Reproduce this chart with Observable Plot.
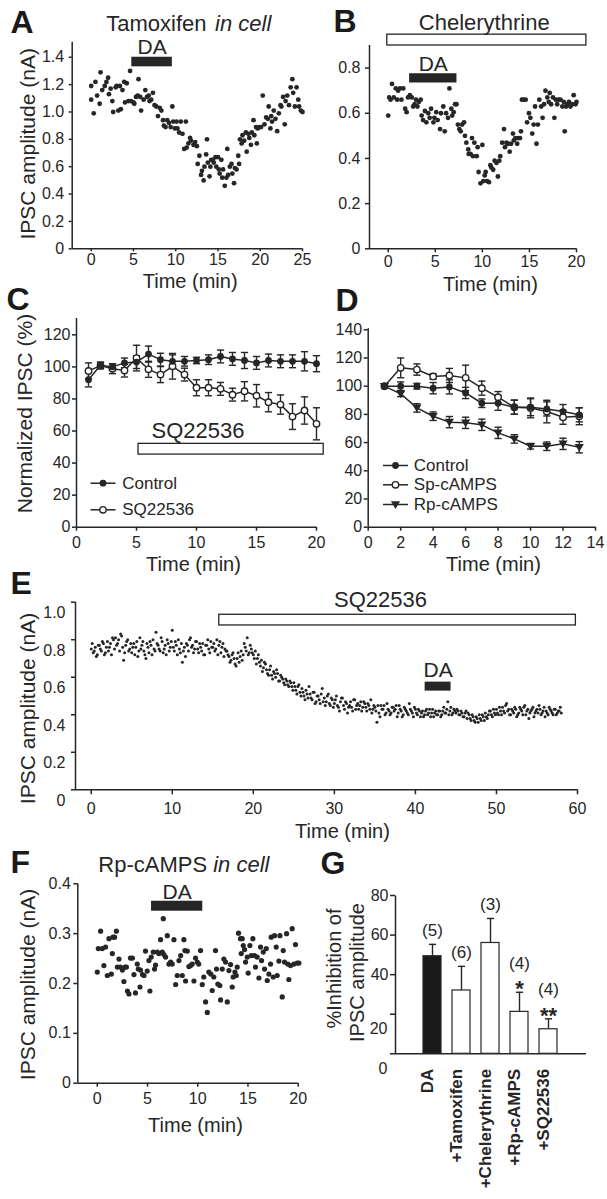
<!DOCTYPE html>
<html><head><meta charset="utf-8">
<script src="https://cdn.jsdelivr.net/npm/d3@7"></script>
<script src="https://cdn.jsdelivr.net/npm/@observablehq/plot@0.6"></script>
<style>
html,body{margin:0;padding:0;background:#fff;}
#fig{position:relative;width:607px;height:1199px;overflow:hidden;background:#fff;}
.panel{position:absolute;}
.panel svg{overflow:visible;}
</style></head><body><div id="fig"></div>
<script>
// ================= DATA =================
// Panel A : Tamoxifen in cell
const A_time = [0,0,0.3,0.5,0.7,1.0,1.1,1.3,1.6,1.8,
 2.0,2.1,2.3,2.5,2.6,2.9,3.0,3.2,3.4,3.5,
 3.7,3.9,4.0,4.2,4.4,4.6,4.7,5.0,5.1,5.3,
 5.5,5.6,5.8,5.9,6.2,6.4,6.6,6.8,6.9,7.1,
 7.3,7.5,7.7,7.9,8.1,8.3,8.5,8.6,8.8,9.0,
 9.2,9.4,9.6,9.7,9.9,10.1,10.2,10.4,10.6,10.8,
 11.0,11.2,11.3,11.5,11.7,11.8,12.1,12.3,12.5,12.6,
 12.8,13.0,13.1,13.3,13.4,13.6,13.7,13.8,14.0,14.1,
 14.2,14.4,14.5,14.7,14.8,15.0,15.1,15.2,15.4,15.5,
 15.6,15.8,16.0,16.1,16.2,16.4,16.6,16.7,16.9,17.0,
 17.2,17.4,17.5,17.6,17.8,17.9,18.1,18.3,18.4,18.6,
 18.7,18.9,19.0,19.2,19.3,19.5,19.6,19.7,19.9,20.1,
 20.3,20.5,20.7,20.9,21.0,21.2,21.3,21.4,21.6,21.8,
 22.0,22.2,22.4,22.5,22.7,22.9,23.0,23.2,23.4,23.6,
 23.8,23.9,24.1,24.3,24.5,24.6,24.8,25.0];
const A_amp = [1.19,1.09,0.99,1.22,1.12,1.06,1.29,1.16,1.19,1.22,
 1.25,1.13,1.17,1.08,1.00,1.18,1.19,1.01,1.19,1.02,
 1.16,1.22,1.07,1.21,1.08,1.30,1.08,1.07,1.06,1.11,
 1.12,1.24,1.11,1.01,1.09,1.16,1.11,1.12,1.08,1.09,
 1.14,1.05,1.04,0.97,1.03,1.01,0.94,0.90,0.89,0.94,
 0.92,0.89,1.04,0.93,0.88,0.93,0.88,0.85,0.93,0.84,
 0.73,0.93,0.74,0.77,0.81,0.79,0.76,0.78,0.75,0.62,
 0.68,0.54,0.57,0.50,0.60,0.69,0.80,0.63,0.53,0.60,
 0.65,0.65,0.63,0.67,0.60,0.67,0.58,0.55,0.65,0.52,
 0.58,0.46,0.52,0.73,0.54,0.60,0.62,0.55,0.48,0.59,
 0.58,0.68,0.62,0.80,0.77,0.83,0.79,0.85,0.71,0.84,
 0.81,0.76,0.85,0.94,0.83,0.89,0.77,0.88,0.89,0.89,
 1.12,0.91,0.96,0.95,1.04,0.88,0.97,0.93,1.01,0.95,
 0.86,0.99,1.05,1.04,1.11,0.91,1.08,1.12,1.05,1.18,
 1.24,1.14,1.04,1.18,1.09,1.04,1.01,1.00];
const A_DA = [4.8, 9.6];
const A_xTicks = [0,5,10,15,20,25];
const A_yTicks = [0,0.2,0.4,0.6,0.8,1.0,1.2,1.4];

// Panel B : Chelerythrine
const B_time = [0,0.1,0.25,0.4,0.6,0.8,0.95,1.05,1.25,1.4,
 1.6,1.8,1.95,2.1,2.3,2.5,2.65,2.8,2.95,3.1,
 3.25,3.45,3.55,3.7,3.9,4.05,4.25,4.4,4.55,4.8,
 4.9,5.1,5.25,5.5,5.6,5.85,6.0,6.15,6.35,6.5,
 6.7,6.8,6.95,7.1,7.25,7.4,7.55,7.7,7.85,8.05,
 8.15,8.3,8.5,8.55,8.75,8.9,9.0,9.15,9.4,9.5,
 9.6,9.8,10.0,10.1,10.25,10.35,10.5,10.7,10.85,10.95,
 11.15,11.3,11.5,11.65,11.8,11.9,12.1,12.3,12.4,12.55,
 12.7,12.9,13.05,13.25,13.35,13.5,13.7,13.8,14.0,14.1,
 14.2,14.4,14.6,14.75,14.95,15.1,15.3,15.45,15.6,15.75,
 15.9,16.05,16.25,16.4,16.55,16.7,16.9,17.05,17.15,17.3,
 17.5,17.65,17.8,17.95,18.1,18.3,18.5,18.65,18.75,18.9,
 19.0,19.2,19.35,19.55,19.7,19.9,20.0];
const B_amp = [0.59,0.67,0.66,0.73,0.67,0.71,0.66,0.70,0.71,0.66,
 0.71,0.62,0.605,0.67,0.68,0.67,0.63,0.64,0.66,0.63,
 0.65,0.66,0.59,0.57,0.61,0.56,0.60,0.58,0.62,0.56,
 0.58,0.605,0.57,0.53,0.60,0.63,0.52,0.60,0.58,0.71,
 0.62,0.59,0.605,0.64,0.64,0.55,0.53,0.52,0.55,0.56,
 0.50,0.47,0.44,0.42,0.42,0.49,0.41,0.47,0.41,0.45,
 0.34,0.29,0.46,0.30,0.325,0.34,0.30,0.295,0.37,0.36,
 0.35,0.39,0.38,0.32,0.39,0.41,0.47,0.53,0.45,0.47,
 0.465,0.43,0.465,0.51,0.48,0.49,0.465,0.49,0.49,0.52,
 0.66,0.66,0.66,0.56,0.60,0.58,0.51,0.55,0.63,0.465,
 0.55,0.66,0.63,0.58,0.64,0.70,0.67,0.65,0.69,0.64,
 0.67,0.58,0.66,0.64,0.66,0.66,0.63,0.65,0.52,0.63,
 0.64,0.65,0.63,0.64,0.68,0.64,0.65];
const B_DA = [2.27, 7.3];
const B_CHEL = [-0.1, 21.05];
const B_xTicks = [0,5,10,15,20];
const B_yTicks = [0,0.2,0.4,0.6,0.8];

// Panel C : Normalized IPSC, Control vs SQ22536
const C_time = [1,2,3,4,5,6,7,8,9,10,11,12,13,14,15,16,17,18,19,20];
const C_control = [92,101,100,102.5,103,108,104.5,103.5,103.5,104,104.5,106.5,105,104,102.5,104,103.5,103.5,103.5,102];
const C_controlErr = [4.5,2,2,3,4,5,4,4,3,2,3,4,4,5,4,4,4,4,6,5];
const C_sq = [97.5,100.8,98.8,97.7,105.5,98.5,95.2,100.4,95.2,87,87,86.3,82.7,84.8,82,78,76.5,69,72.8,64.5];
const C_sqErr = [5,2,3,4,8,5,5,8,4,5,5,4,4,6,7,6,6,8,8.5,10];
const C_SQ = [5.17, 20.6];
const C_xTicks = [0,5,10,15,20];
const C_yTicks = [0,20,40,60,80,100,120];
const C_series = ["Control","SQ22536"];

// Panel D : Control, Sp-cAMPS, Rp-cAMPS
const D_time = [1,2,3,4,5,6,7,8,9,10,11,12,13];
const D_control = [100,100,100,98.6,99.5,95.2,87.9,87.9,85.1,85.1,83.9,82,79.7];
const D_controlErr = [0,3,2,4,5,4,3,5,5,6,5,5,5];
const D_sp = [100,113,111.8,106.9,107.6,105.9,98.6,92.2,85.1,84.6,82,78,78.7];
const D_spErr = [0,7,4,2,5,9,5,4,5,7,8,5,6];
const D_rp = [100,94.6,84.6,78.7,74.5,74,72.6,66.9,62.6,57.4,57.4,59.1,56.7];
const D_rpErr = [0,2,3,3,4,4,4,4,3,2,3,4,4];
const D_xTicks = [0,2,4,6,8,10,12,14];
const D_yTicks = [0,20,40,60,80,100,120,140];
const D_series = ["Control","Sp-cAMPS","Rp-cAMPS"];

// Panel E : SQ22536 then DA (sweeps every 0.125 min; two interleaved read-offs)
const E_interval = 0.25;
const E_amp = [
 0.75,0.73,0.76,0.72, 0.77,0.74,0.78,0.73, 0.79,0.76,0.72,0.80, 0.81,0.78,0.74,0.82, 0.69,0.77,0.80,0.75,
 0.73,0.78,0.76,0.71, 0.81,0.77,0.74,0.70, 0.76,0.79,0.72,0.75, 0.84,0.77,0.74,0.79, 0.75,0.72,0.78,0.76,
 0.85,0.74,0.77,0.80, 0.73,0.68,0.76,0.78, 0.74,0.81,0.77,0.75, 0.79,0.73,0.76,0.78, 0.72,0.77,0.75,0.79,
 0.76,0.74,0.80,0.77, 0.73,0.78,0.75,0.74, 0.71,0.69,0.73,0.67, 0.70,0.68,0.74,0.72, 0.76,0.81,0.73,0.75,
 0.72,0.74,0.70,0.68, 0.69,0.65,0.67,0.62, 0.64,0.61,0.63,0.60, 0.62,0.58,0.60,0.57, 0.59,0.56,0.58,0.55,
 0.57,0.53,0.55,0.52, 0.54,0.50,0.53,0.49, 0.51,0.48,0.52,0.47, 0.50,0.46,0.54,0.49, 0.47,0.51,0.45,0.48,
 0.46,0.50,0.44,0.47, 0.49,0.43,0.46,0.44, 0.47,0.42,0.48,0.45, 0.43,0.47,0.44,0.46, 0.42,0.45,0.48,0.43,
 0.44,0.36,0.41,0.45, 0.43,0.40,0.46,0.42, 0.41,0.44,0.43,0.39, 0.45,0.42,0.40,0.43, 0.41,0.46,0.42,0.39,
 0.43,0.40,0.42,0.41, 0.39,0.42,0.40,0.43, 0.41,0.39,0.42,0.40, 0.42,0.40,0.44,0.41, 0.47,0.42,0.40,0.43,
 0.41,0.42,0.40,0.41, 0.39,0.42,0.41,0.38, 0.40,0.37,0.39,0.36, 0.38,0.40,0.37,0.39, 0.40,0.42,0.39,0.41,
 0.43,0.40,0.42,0.44, 0.41,0.46,0.43,0.40, 0.42,0.44,0.39,0.41, 0.43,0.40,0.45,0.42, 0.38,0.42,0.44,0.41,
 0.43,0.45,0.40,0.42, 0.39,0.41,0.44,0.42, 0.40,0.43,0.41,0.42, 0.41];
const E_amp2 = [
 0.78,0.74,0.71,0.77, 0.75,0.79,0.72,0.76, 0.74,0.78,0.81,0.75, 0.77,0.80,0.83,0.76, 0.73,0.79,0.74,0.78,
 0.76,0.72,0.79,0.74, 0.75,0.79,0.72,0.78, 0.73,0.77,0.80,0.74, 0.78,0.75,0.81,0.73, 0.77,0.80,0.74,0.79,
 0.76,0.79,0.72,0.75, 0.78,0.74,0.71,0.77, 0.80,0.76,0.73,0.79, 0.75,0.78,0.74,0.72, 0.77,0.80,0.73,0.76,
 0.78,0.75,0.72,0.79, 0.76,0.71,0.74,0.72, 0.68,0.72,0.70,0.66, 0.73,0.71,0.69,0.78, 0.74,0.72,0.77,0.73,
 0.70,0.67,0.72,0.66, 0.63,0.68,0.64,0.61, 0.66,0.59,0.62,0.64, 0.58,0.61,0.59,0.56, 0.58,0.55,0.57,0.53,
 0.55,0.51,0.56,0.50, 0.52,0.48,0.51,0.55, 0.49,0.52,0.46,0.50, 0.48,0.51,0.47,0.45, 0.50,0.46,0.49,0.44,
 0.48,0.45,0.42,0.49, 0.45,0.47,0.41,0.45, 0.44,0.48,0.43,0.46, 0.45,0.42,0.47,0.44, 0.46,0.43,0.41,0.45,
 0.42,0.45,0.39,0.43, 0.45,0.41,0.43,0.40, 0.44,0.42,0.45,0.41, 0.43,0.39,0.44,0.42, 0.40,0.43,0.41,0.44,
 0.41,0.43,0.39,0.42, 0.40,0.43,0.41,0.39, 0.43,0.41,0.40,0.42, 0.39,0.42,0.41,0.43, 0.40,0.44,0.41,0.42,
 0.43,0.40,0.42,0.39, 0.41,0.38,0.40,0.37, 0.39,0.36,0.38,0.40, 0.37,0.39,0.41,0.38, 0.42,0.40,0.43,0.40,
 0.41,0.44,0.40,0.42, 0.45,0.42,0.40,0.43, 0.41,0.43,0.40,0.44, 0.42,0.44,0.40,0.43, 0.41,0.43,0.39,0.42,
 0.41,0.43,0.41,0.44, 0.42,0.40,0.43,0.41, 0.43,0.40,0.42,0.44];
const E_SQ = [15.8, 59.8];
const E_DA = [41.2, 44.4];
const E_xTicks = [0,10,20,30,40,50,60];
const E_yTicks = [0,0.2,0.4,0.6,0.8,1.0];

// Panel F : Rp-cAMPS in cell
const F_time = [0,0.1,0.33,0.5,0.66,0.83,1.0,1.16,1.4,1.5,
 1.56,1.72,1.9,2.0,2.16,2.3,2.5,2.65,2.75,2.9,
 3.0,3.15,3.3,3.5,3.65,3.8,3.98,4.08,4.25,4.3,
 4.5,4.65,4.8,4.97,5.14,5.24,5.37,5.57,5.7,5.8,
 5.97,6.14,6.3,6.47,6.57,6.63,6.8,6.97,7.13,7.3,
 7.46,7.63,7.8,7.96,8.13,8.3,8.46,8.62,8.72,8.79,
 8.96,9.12,9.29,9.45,9.62,9.78,9.95,10.1,10.28,10.45,
 10.6,10.78,10.95,11.1,11.3,11.44,11.6,11.77,11.87,12.0,
 12.2,12.27,12.44,12.6,12.77,12.94,13.1,13.27,13.43,13.53,
 13.7,13.83,13.93,14.06,14.26,14.33,14.43,14.53,14.66,14.76,
 14.93,15.02,15.19,15.32,15.49,15.65,15.75,15.92,16.09,16.25,
 16.35,16.52,16.65,16.82,16.92,17.08,17.25,17.31,17.51,17.64,
 17.81,17.91,18.08,18.18,18.41,18.51,18.64,18.84,18.97,19.07,
 19.24,19.4,19.57,19.73,19.9,20.07];
const F_amp = [0.223,0.27,0.305,0.27,0.236,0.273,0.216,0.29,0.219,0.26,
 0.293,0.293,0.305,0.233,0.249,0.233,0.227,0.204,0.233,0.233,
 0.185,0.179,0.251,0.251,0.218,0.181,0.239,0.229,0.193,0.227,
 0.218,0.216,0.265,0.225,0.246,0.185,0.253,0.263,0.229,0.237,
 0.263,0.26,0.288,0.263,0.33,0.258,0.253,0.296,0.239,0.243,
 0.239,0.288,0.198,0.216,0.246,0.256,0.216,0.288,0.266,0.205,
 0.265,0.234,0.236,0.239,0.205,0.251,0.243,0.239,0.266,0.198,
 0.213,0.163,0.142,0.223,0.219,0.186,0.213,0.266,0.229,0.199,
 0.196,0.167,0.229,0.249,0.243,0.163,0.226,0.238,0.193,0.213,
 0.223,0.216,0.233,0.301,0.29,0.26,0.29,0.276,0.268,0.243,
 0.253,0.221,0.276,0.256,0.29,0.256,0.233,0.253,0.211,0.273,
 0.246,0.263,0.229,0.27,0.206,0.219,0.239,0.293,0.213,0.296,
 0.273,0.216,0.245,0.296,0.173,0.266,0.243,0.3,0.239,0.208,
 0.236,0.31,0.239,0.278,0.241,0.241];
const F_DA = [5.4, 10.5];
const F_xTicks = [0,5,10,15,20];
const F_yTicks = [0,0.1,0.2,0.3,0.4];

// Panel G : % inhibition summary
const G_cats = ["DA","+Tamoxifen","+Chelerythrine","+Rp-cAMPS","+SQ22536"];
const G_mean = [49.3, 32, 56, 21.2, 12.4];
const G_err = [6, 12.2, 12.4, 9.9, 5.3];
const G_n = ["(5)","(6)","(3)","(4)","(4)"];
const G_sig = ["","","","*","**"];
const G_yTicks = [0,20,40,60,80];

// ================= DRAWING =================
const INK = "#262626";
const FONT = '"Liberation Sans", Arial, Helvetica, sans-serif';
const TICK = 16;
const fig = document.getElementById("fig");
const fmtDec = d => d === 0 ? "0" : d3.format(".1f")(d);
const zip = (t, v) => t.map((x, i) => ({t: x, v: v[i]}));

const capSym = {draw(c){ c.moveTo(-3.6,0); c.lineTo(3.6,0); }};
const legLine = {draw(c){ c.moveTo(-12.5,0); c.lineTo(12.5,0); }};
const triDown = {draw(c){ c.moveTo(-4.6,-3.3); c.lineTo(4.6,-3.3); c.lineTo(0,4.4); c.closePath(); }};
const vLine = h => ({draw(c){ c.moveTo(0,-h/2); c.lineTo(0,h/2); }});

function makePanel(cfg) {
  const {left, top, width, height, frame} = cfg;
  const at = (px, py) => ({frameAnchor: "top-left", dx: px - frame.l, dy: py - frame.t});
  const label = (text, px, py, o = {}) => Plot.text([text], {...at(px, py), text: d => d, fill: INK, fontSize: 20, textAnchor: "middle", lineAnchor: "bottom", ...o});
  const letter = (text, px, py) => label(text, px, py, {fontSize: 32, fontWeight: "bold", textAnchor: "start", fill: "#1a1a1a"});
  const ylab = (text, px, py, o = {}) => label(text, px, py, {rotate: -90, lineAnchor: "middle", fontSize: 21, ...o});
  const marks = cfg.marks({at, label, letter, ylab, frame});
  const svg = Plot.plot({
    width, height,
    marginLeft: frame.l - left, marginTop: frame.t - top,
    marginRight: left + width - frame.r, marginBottom: top + height - frame.b,
    x: {label: null, ...cfg.x}, y: {label: null, ...cfg.y},
    style: {background: "transparent", fontFamily: FONT, fontSize: TICK + "px", color: INK, overflow: "visible"},
    marks
  });
  const div = document.createElement("div");
  div.className = "panel";
  div.style.left = left + "px"; div.style.top = top + "px";
  div.style.width = width + "px"; div.style.height = height + "px";
  div.appendChild(svg);
  fig.appendChild(div);
}

const axX = (ticks, o = {}) => Plot.axisX({ticks, tickSize: 4, tickPadding: 5, fontSize: TICK, strokeWidth: 1.5, label: null, ...o});
const axY = (ticks, o = {}) => Plot.axisY({ticks, tickSize: 4, tickPadding: 3, fontSize: TICK, strokeWidth: 1.5, label: null, ...o});
const axisLines = (xd, yd) => [Plot.ruleX([xd[0]], {stroke: INK, strokeWidth: 1.5}), Plot.ruleY([yd[0]], {stroke: INK, strokeWidth: 1.5})];
function errBars(rows, y, e) {
  const r = rows.filter(d => d[e] > 0);
  return [
    Plot.ruleX(r, {x: "t", y1: d => d[y] - d[e], y2: d => d[y] + d[e], stroke: INK, strokeWidth: 1.4}),
    Plot.dot(r, {x: "t", y: d => d[y] + d[e], symbol: capSym, fill: "none", stroke: INK, strokeWidth: 1.4}),
    Plot.dot(r, {x: "t", y: d => d[y] - d[e], symbol: capSym, fill: "none", stroke: INK, strokeWidth: 1.4})
  ];
}
const filledDot = {r: 3.4, fill: INK, stroke: "none"};
const openDot = {r: 3.2, fill: "white", stroke: INK, strokeWidth: 1.4};
const triDot = {symbol: triDown, fill: INK, stroke: "none"};

// ---------- A ----------
{
  const xd = [-2.25, 25], yd = [0, 1.51];
  makePanel({left: 0, top: 0, width: 310, height: 290, frame: {l: 71.7, t: 41.7, r: 302, b: 248.3},
    x: {domain: xd}, y: {domain: yd},
    marks: ({label, letter, ylab}) => [
      ...axisLines(xd, yd),
      axX(A_xTicks, {tickSize: 3, tickPadding: 1.5}),
      axY(A_yTicks, {tickSize: 3, tickPadding: 5, tickFormat: fmtDec}),
      Plot.dot(zip(A_time, A_amp), {x: "t", y: "v", r: 2.4, fill: INK}),
      Plot.rect([A_DA], {x1: d => d[0], x2: d => d[1], y1: 1.33, y2: 1.40, fill: INK}),
      Plot.text([A_DA], {x: d => (d[0] + d[1]) / 2, frameAnchor: "top", dy: 53.3 - 41.7, text: () => "DA", lineAnchor: "bottom", fontSize: 21, fill: INK}),
      letter("A", 10, 32),
      label("Tamoxifen", 105.8, 30, {fontSize: 22, textAnchor: "start"}),
      label("in cell", 214.6, 30, {fontSize: 22, textAnchor: "start", fontStyle: "italic"}),
      ylab("IPSC amplitude (nA)", 28, 143.3),
      label("Time (min)", 189.7, 287)
    ]});
}

// ---------- B ----------
{
  const xd = [-1.99, 20], yd = [0, 0.9];
  makePanel({left: 310, top: 0, width: 297, height: 290, frame: {l: 369, t: 45, r: 576, b: 248.3},
    x: {domain: xd}, y: {domain: yd},
    marks: ({label, letter}) => [
      ...axisLines(xd, yd),
      axX(B_xTicks, {tickSize: 4, tickPadding: 3}),
      axY(B_yTicks, {tickSize: 4, tickPadding: 5, tickFormat: fmtDec}),
      Plot.dot(zip(B_time, B_amp), {x: "t", y: "v", r: 2.4, fill: INK}),
      Plot.rect([B_CHEL], {x1: d => d[0], x2: d => d[1], y1: 0.9, y2: 0.948, fill: "white", stroke: INK, strokeWidth: 1.3}),
      Plot.rect([B_DA], {x1: d => d[0], x2: d => d[1], y1: 0.734, y2: 0.775, fill: INK}),
      Plot.text([B_DA], {x: d => (d[0] + d[1]) / 2, frameAnchor: "top", dy: 70 - 45, text: () => "DA", lineAnchor: "bottom", fontSize: 21, fill: INK}),
      letter("B", 333, 31.7),
      label("Chelerythrine", 483.7, 29.5, {fontSize: 22}),
      label("Time (min)", 490, 290)
    ]});
}

// ---------- C ----------
{
  const xd = [0, 20], yd = [0, 130.2];
  const rows = C_time.map((t, i) => ({t, ctl: C_control[i], ctlE: C_controlErr[i], sq: C_sq[i], sqE: C_sqErr[i]}));
  makePanel({left: 0, top: 290, width: 320, height: 290, frame: {l: 76, t: 318, r: 316, b: 526.7},
    x: {domain: xd}, y: {domain: yd},
    marks: ({at, label, letter, ylab}) => [
      ...axisLines(xd, yd),
      axX(C_xTicks, {tickSize: 4, tickPadding: 5}),
      axY(C_yTicks, {tickSize: 4, tickPadding: 2}),
      Plot.rect([C_SQ], {x1: d => d[0], x2: d => d[1], y1: 45.3, y2: 52, fill: "white", stroke: INK, strokeWidth: 1.3}),
      label("SQ22536", 197.5, 437.3, {fontSize: 22}),
      Plot.line(rows, {x: "t", y: "sq", stroke: INK, strokeWidth: 1.5}),
      Plot.line(rows, {x: "t", y: "ctl", stroke: INK, strokeWidth: 1.5}),
      ...errBars(rows, "sq", "sqE"),
      ...errBars(rows, "ctl", "ctlE"),
      Plot.dot(rows, {x: "t", y: "sq", ...openDot}),
      Plot.dot(rows, {x: "t", y: "ctl", ...filledDot}),
      Plot.dot([0], {...at(102.5, 482.7), symbol: legLine, fill: "none", stroke: INK, strokeWidth: 1.5}),
      Plot.dot([0], {...at(102.5, 482.7), ...filledDot}),
      label(C_series[0], 121.7, 482.7, {fontSize: 17, textAnchor: "start", lineAnchor: "middle"}),
      Plot.dot([0], {...at(102.5, 509.3), symbol: legLine, fill: "none", stroke: INK, strokeWidth: 1.5}),
      Plot.dot([0], {...at(102.5, 509.3), ...openDot}),
      label(C_series[1], 121.7, 509.3, {fontSize: 17, textAnchor: "start", lineAnchor: "middle"}),
      letter("C", 6, 309),
      ylab("Normalized IPSC (%)", 25, 413),
      label("Time (min)", 193, 570)
    ]});
}

// ---------- D ----------
{
  const xd = [0, 14], yd = [0, 140.7];
  const rows = D_time.map((t, i) => ({t, ctl: D_control[i], ctlE: D_controlErr[i], sp: D_sp[i], spE: D_spErr[i], rp: D_rp[i], rpE: D_rpErr[i]}));
  const legY = [465, 484.3, 504];
  const legSym = [filledDot, openDot, triDot];
  makePanel({left: 320, top: 290, width: 287, height: 290, frame: {l: 367.7, t: 328.3, r: 595, b: 526.7},
    x: {domain: xd}, y: {domain: yd},
    marks: ({at, label, letter}) => [
      ...axisLines(xd, yd),
      axX(D_xTicks, {tickSize: 4, tickPadding: 5}),
      axY(D_yTicks, {tickSize: 4, tickPadding: 2}),
      Plot.line(rows, {x: "t", y: "rp", stroke: INK, strokeWidth: 1.5}),
      Plot.line(rows, {x: "t", y: "sp", stroke: INK, strokeWidth: 1.5}),
      Plot.line(rows, {x: "t", y: "ctl", stroke: INK, strokeWidth: 1.5}),
      ...errBars(rows, "rp", "rpE"),
      ...errBars(rows, "sp", "spE"),
      ...errBars(rows, "ctl", "ctlE"),
      Plot.dot(rows, {x: "t", y: "rp", ...triDot}),
      Plot.dot(rows, {x: "t", y: "sp", ...openDot}),
      Plot.dot(rows, {x: "t", y: "ctl", ...filledDot}),
      ...D_series.flatMap((s, i) => [
        Plot.dot([0], {...at(395, legY[i]), symbol: legLine, fill: "none", stroke: INK, strokeWidth: 1.5}),
        Plot.dot([0], {...at(395, legY[i]), ...legSym[i]}),
        label(s, 413.3, legY[i], {fontSize: 17, textAnchor: "start", lineAnchor: "middle"})
      ]),
      letter("D", 335, 310),
      label("Time (min)", 493, 570)
    ]});
}

// ---------- E ----------
{
  const xd = [-1.94, 60], yd = [0, 1.0];
  const pts = E_amp.map((v, i) => ({t: i * E_interval, v}))
    .concat(E_amp2.map((v, i) => ({t: (i + 0.5) * E_interval, v})));
  makePanel({left: 0, top: 570, width: 607, height: 275, frame: {l: 75, t: 601.7, r: 577, b: 789.3},
    x: {domain: xd}, y: {domain: yd},
    marks: ({label, letter, ylab}) => [
      ...axisLines(xd, yd),
      axX(E_xTicks, {tickSize: 5, tickPadding: 8}),
      axY(E_yTicks, {tickSize: 4, tickFormat: () => ""}),
      Plot.text(E_yTicks, {y: d => d, frameAnchor: "left", dx: -10, dy: 11, textAnchor: "end", text: fmtDec, fontSize: TICK, fill: INK}),
      Plot.dot(pts, {x: "t", y: "v", r: 1.5, fill: INK}),
      Plot.rect([E_SQ], {x1: d => d[0], x2: d => d[1], y1: 0.876, y2: 0.933, fill: "white", stroke: INK, strokeWidth: 1.3}),
      label("SQ22536", 380, 606, {fontSize: 22}),
      Plot.rect([E_DA], {x1: d => d[0], x2: d => d[1], y1: 0.526, y2: 0.574, fill: INK}),
      Plot.text([E_DA], {x: d => (d[0] + d[1]) / 2, frameAnchor: "top", dy: 676.7 - 601.7, text: () => "DA", lineAnchor: "bottom", fontSize: 21, fill: INK}),
      letter("E", 10, 593),
      ylab("IPSC amplitude (nA)", 28, 708),
      label("Time (min)", 342, 837)
    ]});
}

// ---------- F ----------
{
  const xd = [-1.94, 20], yd = [0, 0.4];
  makePanel({left: 0, top: 845, width: 310, height: 300, frame: {l: 77.3, t: 883.3, r: 297.7, b: 1082.7},
    x: {domain: xd}, y: {domain: yd},
    marks: ({label, letter, ylab}) => [
      ...axisLines(xd, yd),
      axX(F_xTicks, {tickSize: 4, tickPadding: 5}),
      axY(F_yTicks, {tickSize: 4, tickPadding: 3, tickFormat: fmtDec}),
      Plot.dot(zip(F_time, F_amp), {x: "t", y: "v", r: 2.6, fill: INK}),
      Plot.rect([F_DA], {x1: d => d[0], x2: d => d[1], y1: 0.345, y2: 0.365, fill: INK}),
      Plot.text([F_DA], {x: d => (d[0] + d[1]) / 2, frameAnchor: "top", dy: 898.3 - 883.3, text: () => "DA", lineAnchor: "bottom", fontSize: 21, fill: INK}),
      letter("F", 10, 872),
      label("Rp-cAMPS", 97.8, 871, {fontSize: 22, textAnchor: "start"}),
      label("in cell", 212.7, 871, {fontSize: 22, textAnchor: "start", fontStyle: "italic"}),
      ylab("IPSC amplitude (nA)", 28, 984),
      label("Time (min)", 195, 1131)
    ]});
}

// ---------- G ----------
{
  const yd = [0, 80];
  const rows = G_cats.map((c, i) => ({c, m: G_mean[i], e: G_err[i], n: G_n[i], sig: G_sig[i], first: i === 0}));
  makePanel({left: 310, top: 845, width: 297, height: 354, frame: {l: 395, t: 895, r: 586, b: 1053.3},
    x: {type: "band", domain: G_cats, paddingInner: 0.367, paddingOuter: 0.867, axis: null},
    y: {domain: yd},
    marks: ({label, letter, ylab, frame}) => [
      Plot.ruleY([yd[0]], {stroke: INK, strokeWidth: 1.5}),
      Plot.dot([0], {frameAnchor: "left", symbol: vLine(frame.b - frame.t), fill: "none", stroke: INK, strokeWidth: 1.5}),
      Plot.axisY({ticks: G_yTicks, tickSize: 5, strokeWidth: 1.5, tickFormat: () => "", label: null}),
      Plot.text(G_yTicks.filter(d => d > 20), {y: d => d, frameAnchor: "left", dx: -7, textAnchor: "end", text: d => String(d), fontSize: TICK, fill: INK}),
      Plot.text(G_yTicks.filter(d => d <= 20), {y: d => d, frameAnchor: "left", dx: -8, dy: 15, textAnchor: "end", text: d => String(d), fontSize: TICK, fill: INK}),
      Plot.ruleX(rows, {x: "c", y1: "m", y2: d => d.m + d.e, stroke: INK, strokeWidth: 1.4}),
      Plot.dot(rows, {x: "c", y: d => d.m + d.e, symbol: capSym, fill: "none", stroke: INK, strokeWidth: 1.4}),
      Plot.barY(rows.filter(d => d.first), {x: "c", y: "m", fill: "#1a1a1a", stroke: INK, strokeWidth: 1.2}),
      Plot.barY(rows.filter(d => !d.first), {x: "c", y: "m", fill: "white", stroke: INK, strokeWidth: 1.2}),
      Plot.text(rows.filter(d => !d.sig), {x: "c", y: d => d.m + d.e, dy: -14, text: "n", fontSize: 17, fill: INK}),
      Plot.text(rows.filter(d => d.sig), {x: "c", y: d => d.m + d.e, dy: -29, text: "n", fontSize: 17, fill: INK}),
      Plot.text(rows.filter(d => d.sig), {x: "c", y: d => d.m + d.e, dy: -3, text: "sig", fontSize: 22, fontWeight: "bold", fill: INK}),
      Plot.text(rows, {x: "c", frameAnchor: "bottom", dy: 15, rotate: -90, textAnchor: "end", text: "c", fontSize: 17, fontWeight: "bold", fill: INK}),
      letter("G", 320, 873),
      ylab("%Inhibition of", 334.5, 968, {fontSize: 20}),
      ylab("IPSC amplitude", 357, 972, {fontSize: 20})
    ]});
}
</script>
</body></html>
